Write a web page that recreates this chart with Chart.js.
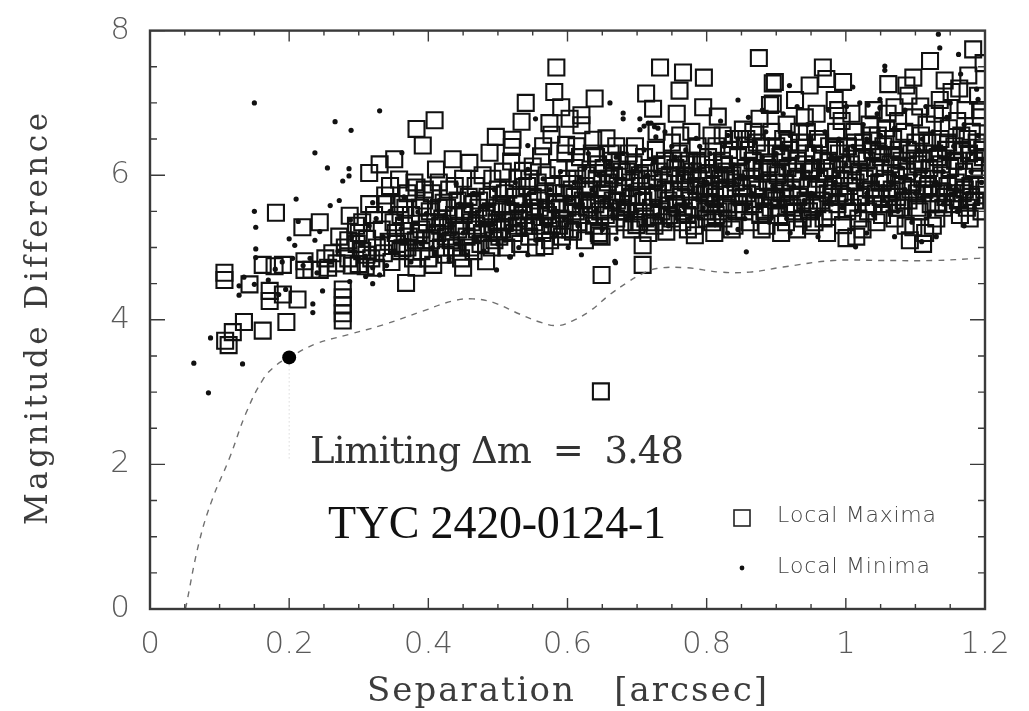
<!DOCTYPE html>
<html><head><meta charset="utf-8">
<script src="https://cdn.jsdelivr.net/npm/chart.js@4.4.1/dist/chart.umd.min.js"></script>
<style>html,body{margin:0;padding:0;background:#fff}canvas{display:block}</style>
</head><body>
<canvas id="c" width="1029" height="711"></canvas>
<script>
const xTickLabels = ['0','0.2','0.4','0.6','0.8','1','1.2'];
const yTickLabels = ['0','2','4','6','8'];

// Local maxima (open squares): [separation, delta mag]
const localMaxima = [
[0.107,4.65],[0.107,4.55],[0.108,3.71],[0.113,3.65],[0.119,3.83],[0.135,3.97],[0.143,4.49],[0.162,3.85],[0.162,4.76],[0.172,4.40],[0.172,4.26],[0.179,4.74],[0.181,5.48],[0.191,4.76],[0.191,4.35],[0.196,3.97],[0.212,4.28],[0.219,5.28],[0.222,4.81],[0.222,4.69],[0.232,4.69],[0.244,4.69],[0.244,5.35],[0.256,4.72],[0.252,4.85],[0.272,5.15],[0.277,4.42],[0.277,4.31],[0.277,4.20],[0.277,4.09],[0.277,3.99],[0.287,5.44],[0.296,5.30],[0.297,5.05],[0.29,4.75],[0.30,4.77],[0.31,4.74],[0.315,6.03],[0.311,4.90],[0.305,4.95],[0.268,4.78],[0.262,4.92],[0.285,4.85],[0.28,5.0],[0.30,5.2],[0.285,5.1],
[0.305,5.35],[0.312,5.12],[0.318,4.85],[0.322,5.45],[0.326,5.0],[0.33,6.15],[0.333,5.25],[0.336,4.92],[0.34,5.6],[0.343,5.08],[0.347,4.8],[0.35,5.35],[0.351,6.22],[0.345,5.85],[0.338,5.72],[0.325,4.72],[0.315,5.6],
[0.355,5.05],[0.358,5.94],[0.358,5.60],[0.36,4.95],[0.363,4.99],[0.365,5.3],[0.368,4.51],[0.37,5.75],[0.372,5.15],[0.375,5.45],[0.378,4.85],[0.38,5.9],[0.383,5.83],[0.383,4.72],[0.383,6.64],[0.386,5.2],[0.388,5.55],[0.39,4.95],[0.392,6.41],[0.394,5.65],[0.396,5.1],[0.398,5.35],[0.4,4.85],[0.36,5.45],[0.37,5.0],[0.39,5.25],
[0.402,5.5],[0.405,5.75],[0.407,4.76],[0.409,6.76],[0.411,6.08],[0.413,5.2],[0.415,5.9],[0.418,5.0],[0.42,5.4],[0.422,5.62],[0.425,4.9],[0.428,5.28],[0.43,5.8],[0.432,5.1],[0.435,6.22],[0.437,5.45],[0.44,5.0],[0.442,5.65],[0.445,5.3],[0.447,4.85],[0.45,4.72],[0.45,5.95],[0.41,5.35],[0.425,5.15],[0.438,5.85],[0.415,5.55],
[0.452,5.5],[0.455,5.15],[0.458,5.7],[0.459,6.17],[0.462,5.35],[0.465,4.95],[0.468,5.85],[0.47,5.25],[0.472,5.55],[0.475,5.05],[0.478,6.0],[0.48,5.4],[0.483,4.81],[0.485,5.7],[0.487,5.2],[0.488,6.31],[0.49,5.5],[0.492,5.95],[0.495,5.1],[0.497,6.53],[0.498,5.35],[0.5,5.8],[0.46,5.0],[0.473,5.65],[0.493,5.25],
[0.502,5.15],[0.505,5.6],[0.507,6.05],[0.51,5.35],[0.512,5.0],[0.515,5.8],[0.518,5.5],[0.519,6.19],[0.52,6.39],[0.521,6.49],[0.523,5.2],[0.525,5.7],[0.528,5.95],[0.53,5.4],[0.532,5.05],[0.534,6.74],[0.535,5.6],[0.536,6.06],[0.538,5.3],[0.54,7.0],[0.542,5.85],[0.545,5.15],[0.547,5.5],[0.55,6.12],[0.55,5.7],[0.51,5.75],[0.527,5.3],[0.545,5.95],
[0.552,5.35],[0.555,5.0],[0.557,5.9],[0.56,5.55],[0.562,6.26],[0.564,5.2],[0.567,5.02],[0.568,5.75],[0.57,6.0],[0.572,5.45],[0.574,6.72],[0.577,6.56],[0.578,5.3],[0.58,5.85],[0.581,7.15],[0.584,7.49],[0.585,5.6],[0.587,6.1],[0.59,5.4],[0.591,6.94],[0.592,5.15],[0.595,5.75],[0.597,6.3],[0.598,6.42],[0.6,5.55],[0.6,5.95],[0.558,5.65],[0.575,5.1],[0.588,5.3],[0.565,6.4],
[0.603,6.78],[0.604,5.25],[0.606,5.8],[0.608,5.22],[0.61,6.1],[0.612,5.5],[0.614,5.95],[0.616,5.35],[0.618,6.25],[0.62,6.83],[0.62,6.69],[0.622,5.65],[0.625,5.1],[0.627,6.0],[0.63,5.45],[0.632,5.8],[0.635,6.3],[0.637,6.49],[0.638,5.3],[0.639,7.06],[0.64,5.6],[0.642,5.95],[0.645,5.2],[0.646,5.17],[0.648,3.01],[0.649,4.62],[0.649,5.15],[0.65,5.75],[0.61,5.7],[0.628,5.55],[0.644,6.15],
[0.652,6.1],[0.655,5.45],[0.656,6.51],[0.658,5.9],[0.66,5.3],[0.662,6.3],[0.665,5.65],[0.667,6.0],[0.67,5.4],[0.672,5.85],[0.675,6.2],[0.677,5.55],[0.68,5.75],[0.682,5.35],[0.685,6.05],[0.687,5.6],[0.69,5.9],[0.692,5.25],[0.695,6.15],[0.697,6.4],[0.699,5.31],[0.7,5.7],[0.66,5.95],[0.675,5.5],[0.688,6.3],[0.67,6.4],
[0.702,5.5],[0.704,6.0],[0.706,5.85],[0.708,5.03],[0.708,4.76],[0.71,6.25],[0.712,5.4],[0.713,7.13],[0.715,5.7],[0.718,6.1],[0.72,5.55],[0.722,5.95],[0.723,6.92],[0.725,5.3],[0.727,6.35],[0.73,5.75],[0.732,6.05],[0.733,7.49],[0.735,5.5],[0.737,5.9],[0.74,6.2],[0.742,5.22],[0.745,5.65],[0.747,6.0],[0.75,5.4],[0.75,6.45],[0.716,5.2],[0.738,5.35],[0.728,6.6],
[0.752,5.8],[0.755,6.1],[0.757,6.85],[0.758,5.55],[0.76,6.3],[0.761,7.17],[0.763,5.7],[0.765,5.35],[0.766,7.42],[0.768,6.0],[0.77,5.9],[0.772,5.45],[0.775,6.2],[0.777,5.65],[0.78,6.05],[0.782,5.3],[0.783,5.17],[0.785,5.85],[0.787,6.4],[0.79,5.55],[0.792,6.15],[0.795,6.94],[0.796,7.35],[0.797,5.75],[0.8,6.0],[0.8,5.4],[0.762,6.55],[0.778,6.6],[0.788,5.95],[0.773,5.25],
[0.802,6.25],[0.804,5.6],[0.806,5.85],[0.808,5.35],[0.81,6.1],[0.812,5.7],[0.814,6.4],[0.816,6.81],[0.817,5.5],[0.82,5.95],[0.822,6.2],[0.824,5.4],[0.826,5.8],[0.828,6.05],[0.83,5.55],[0.832,6.35],[0.835,5.75],[0.837,6.0],[0.84,5.3],[0.842,5.9],[0.845,6.25],[0.847,5.6],[0.85,5.85],[0.852,6.63],[0.811,5.2],[0.823,6.55],[0.836,5.25],[0.848,6.5],[0.818,6.0],
[0.854,5.5],[0.856,6.1],[0.858,5.75],[0.86,6.35],[0.862,5.35],[0.864,5.95],[0.866,6.2],[0.868,5.6],[0.87,5.85],[0.872,6.45],[0.875,7.62],[0.876,6.78],[0.877,5.45],[0.88,6.05],[0.882,5.7],[0.884,6.3],[0.886,5.3],[0.888,5.9],[0.89,6.15],[0.891,6.97],[0.892,5.55],[0.895,7.27],[0.895,6.99],[0.897,5.8],[0.898,7.29],[0.9,6.4],[0.9,5.65],[0.867,6.6],[0.879,5.25],[0.893,6.6],
[0.902,6.0],[0.904,5.45],[0.906,6.25],[0.908,5.75],[0.91,6.5],[0.912,5.9],[0.914,5.35],[0.916,6.1],[0.919,5.6],[0.92,6.35],[0.922,5.8],[0.924,6.05],[0.926,5.5],[0.927,7.04],[0.93,6.2],[0.932,5.7],[0.934,6.45],[0.936,5.95],[0.938,5.4],[0.94,6.15],[0.942,5.65],[0.944,6.6],[0.946,5.85],[0.948,7.24],[0.95,6.05],[0.95,5.3],[0.915,6.7],[0.93,5.25],[0.941,6.8],[0.907,5.2],
[0.952,5.55],[0.954,6.3],[0.955,5.35],[0.957,5.8],[0.96,6.5],[0.962,5.95],[0.964,5.65],[0.966,6.2],[0.967,7.49],[0.968,5.4],[0.97,6.05],[0.972,7.33],[0.974,5.75],[0.976,6.4],[0.978,5.5],[0.98,6.1],[0.982,5.85],[0.984,7.04],[0.986,6.6],[0.988,5.6],[0.99,6.3],[0.992,5.95],[0.994,6.75],[0.996,5.31],[0.996,7.29],[0.998,6.0],[1.0,5.7],[1.001,5.13],[0.958,6.85],[0.973,5.2],[0.989,6.9],
[1.003,6.4],[1.005,5.85],[1.007,6.15],[1.01,5.55],[1.012,6.6],[1.014,5.9],[1.016,6.3],[1.018,5.4],[1.02,6.05],[1.022,5.7],[1.025,6.45],[1.027,5.95],[1.03,6.2],[1.032,5.5],[1.034,6.7],[1.036,5.8],[1.038,6.35],[1.04,5.6],[1.042,6.1],[1.044,5.35],[1.046,6.55],[1.048,5.9],[1.05,6.25],[1.05,5.7],[1.008,6.85],[1.024,5.25],[1.04,6.9],[1.015,5.15],
[1.052,5.45],[1.054,6.4],[1.056,5.95],[1.058,6.65],[1.061,7.26],[1.062,5.6],[1.064,6.15],[1.066,5.8],[1.068,6.5],[1.07,6.94],[1.07,5.4],[1.072,6.0],[1.074,5.7],[1.076,6.35],[1.078,5.55],[1.08,6.2],[1.082,5.85],[1.084,6.6],[1.086,5.3],[1.087,7.24],[1.088,6.05],[1.09,7.10],[1.09,5.65],[1.092,5.10],[1.094,6.3],[1.096,5.9],[1.097,5.28],[1.097,7.35],[1.1,6.45],[1.06,6.85],[1.075,6.75],[1.098,6.8],
[1.102,5.75],[1.104,6.15],[1.106,5.5],[1.108,6.55],[1.11,5.95],[1.112,6.3],[1.114,5.2],[1.116,6.7],[1.118,5.85],[1.12,6.1],[1.121,7.58],[1.122,5.6],[1.124,6.45],[1.126,5.95],[1.128,6.85],[1.13,5.4],[1.132,6.25],[1.134,5.75],[1.135,7.04],[1.136,6.5],[1.138,6.0],[1.14,5.55],[1.142,7.31],[1.144,6.35],[1.146,5.85],[1.148,6.65],[1.15,6.1],[1.152,7.15],[1.107,6.95],[1.125,5.3],[1.139,6.9],[1.111,5.05],
[1.154,5.6],[1.156,6.4],[1.158,5.9],[1.16,6.75],[1.162,6.2],[1.164,5.45],[1.166,6.55],[1.168,5.75],[1.17,6.05],[1.172,6.9],[1.174,5.55],[1.176,7.38],[1.177,6.3],[1.179,5.85],[1.181,6.6],[1.183,7.74],[1.184,6.1],[1.186,5.65],[1.188,6.45],[1.19,7.1],[1.192,5.95],[1.194,6.8],[1.195,5.5],[1.197,6.25],[1.198,7.55],[1.199,5.8],[1.163,7.2],[1.178,5.4],[1.193,6.9],
[0.606,5.6],[0.613,6.4],[0.619,5.45],[0.626,5.85],[0.633,5.6],[0.641,6.25],[0.647,5.5],[0.653,5.8],[0.659,5.55],[0.664,6.2],[0.671,5.65],[0.678,6.05],[0.684,5.5],[0.691,5.7],[0.696,5.95],
[0.703,5.35],[0.709,5.65],[0.714,5.95],[0.719,5.35],[0.724,5.7],[0.731,5.45],[0.736,6.15],[0.741,5.8],[0.746,5.45],[0.751,6.2],[0.756,5.6],[0.762,5.95],[0.767,5.5],[0.771,6.15],[0.776,5.8],[0.781,5.55],[0.786,6.2],[0.791,5.8],[0.798,5.5],
[0.803,5.75],[0.807,6.55],[0.813,5.45],[0.819,5.8],[0.825,6.15],[0.829,5.6],[0.834,5.95],[0.839,6.5],[0.843,5.5],[0.849,6.05],[0.853,5.7],[0.857,6.5],[0.863,5.6],[0.869,6.1],[0.874,5.8],[0.878,6.4],[0.883,5.5],[0.887,6.1],[0.894,5.7],[0.899,6.05],
[0.903,5.55],[0.909,6.3],[0.913,5.7],[0.918,6.45],[0.923,5.55],[0.928,5.95],[0.933,6.6],[0.937,5.6],[0.943,6.3],[0.947,5.5],[0.953,6.1],[0.959,5.6],[0.963,6.45],[0.969,5.8],[0.975,6.2],[0.979,5.7],[0.985,6.35],[0.991,5.75],[0.995,6.15],
[1.002,5.5],[1.009,6.0],[1.013,6.45],[1.019,5.7],[1.023,6.25],[1.029,5.6],[1.033,6.0],[1.037,6.55],[1.043,5.75],[1.047,6.3],[1.053,5.9],[1.057,6.5],[1.063,5.75],[1.067,6.25],[1.073,5.55],[1.077,6.1],[1.083,5.65],[1.089,6.35],[1.093,5.8],[1.099,6.2],
[1.103,5.55],[1.109,6.2],[1.113,5.8],[1.117,6.45],[1.123,5.75],[1.127,6.3],[1.133,5.6],[1.137,6.15],[1.143,5.7],[1.147,6.45],[1.153,5.75],[1.157,6.2],[1.161,5.65],[1.167,6.35],[1.171,5.8],[1.175,6.5],[1.18,5.7],[1.185,6.2],[1.189,5.85],[1.196,6.35],
[0.353,5.2],[0.367,5.55],[0.382,5.1],[0.395,5.8],[0.404,5.1],[0.417,5.3],[0.427,5.55],[0.434,5.0],[0.443,5.25],[0.451,5.45],[0.463,5.6],[0.469,5.3],[0.477,5.2],[0.484,5.45],[0.491,5.0],[0.499,5.55],[0.506,5.25],[0.513,5.5],[0.522,5.35],[0.529,5.6],[0.537,5.45],[0.544,5.3],[0.553,5.55],[0.561,5.3],[0.569,5.5],[0.576,5.4],[0.583,5.75],[0.589,5.55],[0.596,5.25]
];

// Local minima (small dots)
const localMinima = [
[0.063,3.40],[0.084,2.99],[0.087,3.75],[0.128,4.47],[0.128,4.34],[0.133,3.39],[0.135,4.59],[0.150,4.49],[0.150,7.0],[0.150,5.50],[0.152,5.28],[0.152,4.98],[0.152,4.86],[0.195,4.42],[0.2,5.12],[0.208,5.03],[0.21,5.67],[0.213,5.36],[0.234,4.22],[0.234,4.10],[0.237,5.10],[0.237,6.31],[0.244,5.22],[0.248,4.40],[0.255,6.10],[0.259,5.58],[0.266,6.74],[0.272,5.65],[0.277,5.92],[0.286,6.09],[0.286,5.99],[0.289,6.62],[0.288,5.38],[0.29,5.15],[0.18,4.7],[0.19,4.8],[0.17,4.55],[0.22,4.75],[0.24,4.65],[0.26,4.8],[0.27,4.95],[0.23,4.85],[0.185,4.35],[0.205,4.85],
[0.320,4.50],[0.320,5.62],[0.330,6.89],[0.361,5.26],[0.362,6.31],[0.406,5.0],[0.440,5.88],[0.498,4.69],[0.518,4.87],[0.543,4.90],[0.543,6.41],[0.554,6.78],[0.601,5.0],[0.620,4.90],[0.669,4.79],[0.670,5.12],[0.661,7.0],[0.680,6.86],[0.680,6.78],[0.704,6.78],[0.716,6.72],[0.725,6.67],[0.704,6.63],[0.727,6.53],[0.845,7.04],[0.857,4.94],[0.919,7.24],[1.010,7.22],[1.001,6.95],[1.032,6.97],[1.049,6.93],[1.049,7.05],[1.056,7.51],[1.056,7.45],[1.014,5.01],[1.109,5.08],[1.133,7.95],[1.135,7.76],[1.162,7.67],[1.188,7.19],
[0.305,5.05],[0.31,4.88],[0.315,5.3],[0.325,5.40],[0.335,5.15],[0.34,4.75],[0.345,5.5],[0.352,4.95],[0.358,5.40],[0.365,5.7],[0.37,5.1],[0.375,4.8],[0.385,5.49],[0.39,5.05],[0.397,5.47],[0.33,4.62],[0.32,4.72],[0.31,4.6],[0.287,4.53],
[0.405,5.3],[0.41,4.92],[0.415,5.65],[0.42,5.15],[0.425,5.45],[0.43,4.85],[0.43,4.81],[0.435,5.3],[0.44,5.05],[0.445,5.6],[0.45,5.2],[0.455,4.9],[0.46,5.45],[0.465,5.75],[0.47,5.1],[0.475,5.35],[0.48,4.95],[0.485,5.55],[0.49,5.2],[0.495,5.8],[0.5,5.05],
[0.505,5.4],[0.51,5.1],[0.515,5.65],[0.517,4.87],[0.52,5.25],[0.525,5.9],[0.53,5.0],[0.535,5.5],[0.54,5.2],[0.543,6.08],[0.545,5.75],[0.55,5.35],[0.555,5.1],[0.56,5.6],[0.565,5.95],[0.57,5.3],[0.575,5.8],[0.58,5.15],[0.585,5.5],[0.59,6.05],[0.595,5.4],[0.6,5.7],
[0.605,5.45],[0.61,5.9],[0.615,5.3],[0.62,5.65],[0.625,6.1],[0.63,5.35],[0.635,5.8],[0.64,5.5],[0.645,6.0],[0.65,5.25],[0.655,5.7],[0.66,6.15],[0.665,5.45],[0.668,4.81],[0.67,5.9],[0.675,5.6],[0.68,6.3],[0.685,5.4],[0.69,5.85],[0.695,6.05],[0.7,5.5],[0.71,6.68],[0.72,6.72],[0.73,6.65],[0.74,6.6],
[0.705,5.75],[0.71,5.35],[0.715,6.0],[0.72,5.6],[0.725,6.2],[0.73,5.45],[0.735,5.85],[0.74,6.1],[0.745,5.3],[0.75,5.7],[0.755,6.25],[0.76,5.5],[0.765,5.95],[0.77,6.35],[0.775,5.4],[0.78,5.8],[0.785,6.51],[0.79,6.1],[0.795,5.55],[0.8,5.9],
[0.805,6.3],[0.81,5.65],[0.815,6.05],[0.82,5.45],[0.825,6.4],[0.83,5.85],[0.835,6.15],[0.84,5.6],[0.845,6.5],[0.85,5.95],[0.855,5.4],[0.86,6.2],[0.865,5.75],[0.87,6.45],[0.875,5.55],[0.88,6.0],[0.885,6.6],[0.89,5.35],[0.895,5.85],[0.9,6.3],[0.83,5.2],[0.845,5.25],[0.82,6.75],[0.86,6.8],[0.88,6.9],
[0.905,5.6],[0.91,6.1],[0.915,5.4],[0.92,6.55],[0.925,5.85],[0.93,6.25],[0.935,5.5],[0.94,6.0],[0.945,6.7],[0.95,5.75],[0.955,6.35],[0.96,5.45],[0.965,6.05],[0.97,6.6],[0.975,5.65],[0.98,6.25],[0.985,5.9],[0.99,6.5],[0.995,5.55],[1.0,6.15],[0.92,5.2],[0.96,5.15],[0.93,6.95],[0.975,6.9],[0.91,6.85],
[1.005,5.8],[1.01,6.4],[1.015,5.5],[1.02,6.1],[1.025,6.7],[1.03,5.75],[1.035,6.3],[1.04,5.45],[1.045,6.0],[1.05,6.55],[1.055,5.65],[1.06,6.2],[1.065,5.9],[1.07,6.65],[1.075,5.5],[1.08,6.1],[1.085,5.8],[1.09,6.45],[1.095,5.35],[1.1,6.0],[1.03,5.2],[1.07,5.15],[1.045,6.85],[1.085,6.9],[1.02,7.0],
[1.105,6.35],[1.11,5.7],[1.115,6.05],[1.12,5.45],[1.125,6.6],[1.13,5.9],[1.135,6.25],[1.14,5.6],[1.145,6.8],[1.15,5.85],[1.155,6.4],[1.16,5.5],[1.165,6.1],[1.17,6.7],[1.175,5.75],[1.18,6.3],[1.185,5.55],[1.19,6.55],[1.195,5.9],[1.2,6.2],[1.13,5.15],[1.17,5.3],[1.15,7.0],[1.19,7.05],[1.115,6.95],[1.165,7.4],
[0.62,5.95],[0.64,5.75],[0.66,5.6],[0.68,5.95],[0.7,6.1],[0.72,5.85],[0.74,5.55],[0.76,6.05],[0.78,6.15],[0.8,5.6],[0.82,6.1],[0.84,5.9],[0.86,5.55],[0.88,6.25],[0.9,5.8],[0.92,6.05],[0.94,5.65],[0.96,6.2],[0.98,5.6],[1.0,6.35],[1.02,5.85],[1.04,6.2],[1.06,5.6],[1.08,6.35],[1.1,5.75],[1.12,6.2],[1.14,6.05],[1.16,5.8],[1.18,6.05],[1.2,5.7],[0.63,6.3],[0.67,6.25],[0.71,6.35],[0.75,6.4],[0.79,6.4],[0.83,6.55],[0.87,6.2],[0.91,6.4],[0.95,6.5],[0.99,6.0],[1.03,6.5],[1.07,6.0],[1.11,6.5],[1.15,6.3],[1.19,5.65]
];

// Detection limit curve (dashed)
const limitCurve = [
[0.051,0],[0.071,0.94],[0.090,1.53],[0.114,2.08],[0.138,2.71],[0.162,3.17],[0.181,3.37],[0.2,3.48],[0.239,3.67],[0.287,3.8],[0.335,3.93],[0.392,4.12],[0.435,4.26],[0.464,4.29],[0.493,4.24],[0.531,4.08],[0.560,3.97],[0.586,3.92],[0.608,3.99],[0.632,4.12],[0.661,4.35],[0.685,4.51],[0.704,4.62],[0.728,4.71],[0.771,4.72],[0.819,4.66],[0.862,4.66],[0.91,4.73],[0.982,4.82],[1.054,4.82],[1.126,4.82],[1.188,4.85],[1.2,4.86]
];
const limitPoint = [[0.2,3.48]];
const limitDrop = [[0.2,3.48],[0.2,2.08]];

const labelText = 'Limiting \u0394m  =  3.48';
const targetText = 'TYC 2420-0124-1';
const legendNames = ['Local Maxima','Local Minima'];
const xTitle = 'Separation   [arcsec]';
const yTitle = 'Magnitude Difference';

const toXY = a => a.map(p => ({x:p[0], y:p[1]}));

function spaced(ctx, text, cx, y, targetW) {
  const chars = [...text];
  const ws = chars.map(c => ctx.measureText(c).width);
  const tot = ws.reduce((s,v)=>s+v,0);
  const sp = chars.length > 1 ? (targetW - tot)/(chars.length-1) : 0;
  let x = cx - targetW/2;
  ctx.textAlign = 'left';
  chars.forEach((c,i) => { ctx.fillText(c, x, y); x += ws[i] + sp; });
}

const framePlugin = {
  id: 'frame',
  afterDatasetsDraw(chart) {
    const {ctx, chartArea:a, scales:{x, y}} = chart;
    ctx.save();
    ctx.strokeStyle = '#3a3a3a';
    ctx.lineWidth = 1.4;
    ctx.beginPath();
    for (let i = 0; i <= 24; i++) {
      const px = x.getPixelForValue(i*0.05);
      const L = (i % 4 === 0) ? 11 : 5;
      ctx.moveTo(px, a.bottom); ctx.lineTo(px, a.bottom - L);
      ctx.moveTo(px, a.top); ctx.lineTo(px, a.top + L);
    }
    for (let i = 0; i <= 16; i++) {
      const py = y.getPixelForValue(i*0.5);
      const L = (i % 4 === 0) ? 15 : 7;
      ctx.moveTo(a.left, py); ctx.lineTo(a.left + L, py);
      ctx.moveTo(a.right, py); ctx.lineTo(a.right - L, py);
    }
    ctx.stroke();
    ctx.lineWidth = 2.4;
    ctx.strokeRect(a.left, a.top, a.right - a.left, a.bottom - a.top);
    ctx.restore();
  },
  afterDraw(chart) {
    const {ctx} = chart;
    ctx.save();
    ctx.textBaseline = 'alphabetic';
    ctx.fillStyle = '#3c3c3c';
    ctx.font = '34px "DejaVu Serif"';
    spaced(ctx, xTitle, 567, 701, 400);
    ctx.save();
    ctx.translate(0, 319);
    ctx.rotate(-Math.PI/2);
    ctx.font = '31px "DejaVu Serif"';
    spaced(ctx, yTitle, 0, 47, 412);
    ctx.restore();
    ctx.fillStyle = '#333';
    ctx.font = '37px "DejaVu Serif"';
    spaced(ctx, labelText, 497, 463, 374);
    ctx.fillStyle = '#111';
    ctx.font = '46px "Liberation Serif"';
    spaced(ctx, targetText, 497, 538, 338);
    ctx.fillStyle = '#444';
    ctx.font = '300 22px "DejaVu Sans"';
    spaced(ctx, legendNames[0], 856.5, 522, 159);
    spaced(ctx, legendNames[1], 853.5, 573, 153);
    ctx.strokeStyle = '#222';
    ctx.lineWidth = 1.6;
    ctx.strokeRect(734, 510, 16, 16);
    ctx.fillStyle = '#111';
    ctx.beginPath(); ctx.arc(742, 568, 2.4, 0, Math.PI*2); ctx.fill();
    ctx.restore();
  }
};

new Chart(document.getElementById('c'), {
  type: 'scatter',
  data: {
    datasets: [
      { label: legendNames[0], data: toXY(localMaxima), pointStyle: 'rect', pointRadius: 11.3,
        borderColor: '#111', borderWidth: 2.1, backgroundColor: 'rgba(0,0,0,0)', order: 3 },
      { label: legendNames[1], data: toXY(localMinima), pointStyle: 'circle', pointRadius: 2.6,
        borderWidth: 0, backgroundColor: '#111', order: 2 },
      { label: 'limit', data: toXY(limitCurve), showLine: true, pointRadius: 0, borderColor: '#707070',
        borderWidth: 1.4, borderDash: [6,6], tension: 0.4, fill: false, order: 1 },
      { label: 'drop', data: toXY(limitDrop), showLine: true, pointRadius: 0, borderColor: '#c8c8c8',
        borderWidth: 1, borderDash: [1,3], order: 1 },
      { label: 'point', data: toXY(limitPoint), pointStyle: 'circle', pointRadius: 7,
        backgroundColor: '#000', borderWidth: 0, order: 0 }
    ]
  },
  options: {
    responsive: false,
    animation: false,
    events: [],
    layout: { padding: { top: 22, right: 44, left: 0, bottom: 0 } },
    plugins: { legend: { display: false }, tooltip: { enabled: false } },
    scales: {
      x: {
        type: 'linear', min: 0, max: 1.2,
        afterFit: s => { s.height = 102; },
        grid: { display: false }, border: { display: false },
        ticks: { stepSize: 0.2, padding: 9, color: '#5a5a5a', font: { family: 'DejaVu Sans', size: 31, weight: '200' },
          maxRotation: 0, autoSkip: false,
          callback: v => { const s = String(Math.round(v*10)/10); return xTickLabels.includes(s) ? s : ''; } }
      },
      y: {
        type: 'linear', min: 0, max: 8,
        afterFit: s => { s.width = 150; },
        grid: { display: false }, border: { display: false },
        ticks: { stepSize: 2, padding: 12, color: '#5a5a5a', font: { family: 'DejaVu Sans', size: 31, weight: '200' },
          callback: v => { const s = String(Math.round(v)); return yTickLabels.includes(s) ? s : ''; } }
      }
    }
  },
  plugins: [framePlugin]
});
</script>
</body></html>
